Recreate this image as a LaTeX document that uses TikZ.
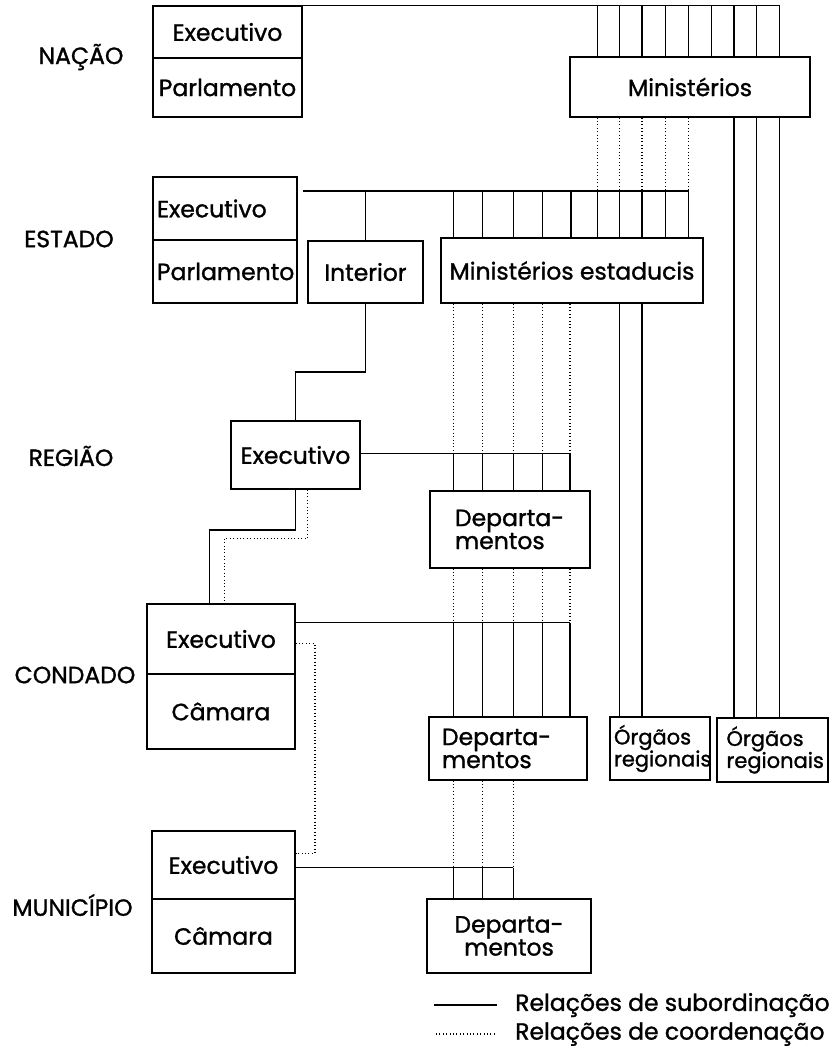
\documentclass[tikz,border=0pt]{standalone}
\usepackage{fontspec}
\setmainfont{Poppins}[FakeBold=1.2]
\newcommand\diagfont{\fontsize{23.5}{23}\selectfont}
\newcommand\orgfont{\fontsize{21}{22}\selectfont}
\tikzset{
  box/.style={draw, line width=1.2pt, inner sep=0pt, font=\diagfont, align=center},
  sub/.style={line width=1.2pt},
  coord/.style={line width=1.1pt, dash pattern=on 1pt off 2.4pt},
  lvl/.style={font=\diagfont},
}
\begin{document}
\begin{tikzpicture}[x=1pt,y=-1pt]
\useasboundingbox (0,0) rectangle (839,1060);

% level labels
\node[lvl] (lnacao) at (81,57) {NAÇÃO};
\node[lvl] (lestado) at (69,239) {ESTADO};
\node[lvl] (lregiao) at (71,456) {REGIÃO};
\node[lvl] (lcondado) at (75,675) {CONDADO};
\node[lvl] (lmunicipio) at (72.5,905) {MUNICÍPIO};

% boxes
\node[box, minimum width=149pt, minimum height=52pt] (nacaoE) at (227.5,32) {Executivo};
\node[box, minimum width=149pt, minimum height=59pt] (nacaoP) at (227.5,87.5) {Parlamento};
\node[box, minimum width=240pt, minimum height=60pt] (minist) at (690,87) {Ministérios};

\node[box, minimum width=144pt, minimum height=63pt, text width=136pt, align=left] (estE) at (225,208.5) {Executivo};
\node[box, minimum width=144pt, minimum height=63pt, text width=136pt, align=left] (estP) at (225,271.5) {Parlamento};
\node[box, minimum width=115pt, minimum height=62pt] (interior) at (365.5,272) {Interior};
\node[box, minimum width=262pt, minimum height=65pt] (minest) at (572,270.5) {Ministérios estaducis};

\node[box, minimum width=129pt, minimum height=68pt] (regE) at (295.5,455) {Executivo};
\node[box, minimum width=160pt, minimum height=77pt, text width=110pt, align=left] (dep1) at (510,529.5) {Departa-\\mentos};

\node[box, minimum width=148pt, minimum height=70pt] (condE) at (221,639) {Executivo};
\node[box, minimum width=148pt, minimum height=75pt] (condC) at (221,711.5) {Câmara};
\node[box, minimum width=158pt, minimum height=63pt, text width=132pt, align=left] (dep2) at (508,748.5) {Departa-\\mentos};
\node[box, font=\orgfont, minimum width=100pt, minimum height=63pt, text width=92pt, align=left] (org1) at (660,748.5) {Órgãos\\regionais};
\node[box, font=\orgfont, minimum width=111pt, minimum height=64pt, text width=92pt, align=left] (org2) at (772.5,750) {Órgãos\\regionais};

\node[box, minimum width=143pt, minimum height=68pt] (munE) at (223.5,865) {Executivo};
\node[box, minimum width=143pt, minimum height=74pt] (munC) at (223.5,936) {Câmara};
\node[box, minimum width=164pt, minimum height=74pt] (dep3) at (509,936) {Departa-\\mentos};

% ---- Nação bus
\coordinate (nbus) at (779.5,0);
\draw[sub] (nacaoE.north east) -- (nacaoE.north east -| nbus);
\foreach \x in {597.3,619.3,642,665.3,688.7,711.3,734,756.7,779.5} {
  \coordinate (t) at (\x,0);
  \draw[sub] (t |- nacaoE.north) -- (t |- minist.north);
}
% Ministérios -> estado bus (coordination)
\coordinate (sbus) at (688.7,191);
\foreach \x in {597.3,619.3,642,665.3,688.7} {
  \coordinate (t) at (\x,0);
  \draw[coord] (t |- minist.south) -- (t |- sbus);
}
% Ministérios -> Órgãos regionais 2
\foreach \x in {734,756.7,779.5} {
  \coordinate (t) at (\x,0);
  \draw[sub] (t |- minist.south) -- (t |- org2.north);
}

% ---- Estado bus
\coordinate (sb0) at ([xshift=5pt]estE.north east);
\draw[sub] (sb0 |- sbus) -- (sbus);
\draw[sub] (interior.north |- sbus) -- (interior.north);
\foreach \x in {453.3,482.7,513.3,542.5,571,597.3,619.3,642,665.3,688.7} {
  \coordinate (t) at (\x,0);
  \draw[sub] (t |- sbus) -- (t |- minest.north);
}
% Ministérios estaduais -> região bus (coordination)
\coordinate (rbus) at (570,453.3);
\foreach \x in {453.3,482.7,513.3,542.5,570} {
  \coordinate (t) at (\x,0);
  \draw[coord] (t |- minest.south) -- (t |- rbus);
}
% Ministérios estaduais -> Órgãos regionais 1
\foreach \x in {619.3,642} {
  \coordinate (t) at (\x,0);
  \draw[sub] (t |- minest.south) -- (t |- org1.north);
}
% Interior -> Região Executivo
\coordinate (ir) at (0,372);
\draw[sub] (interior.south) -- (interior.south |- ir) -| (regE.north);

% ---- Região bus
\draw[sub] (regE.east |- rbus) -- (rbus);
\foreach \x in {453.3,482.7,513.3,542.5,570} {
  \coordinate (t) at (\x,0);
  \draw[sub] (t |- rbus) -- (t |- dep1.north);
}
% Departamentos (região) -> condado bus (coordination)
\coordinate (cbus) at (570,622.7);
\foreach \x in {453.3,482.7,513.3,542.5,570} {
  \coordinate (t) at (\x,0);
  \draw[coord] (t |- dep1.south) -- (t |- cbus);
}
% Região Executivo -> Condado Executivo
\coordinate (rc1) at (209.6,530);
\draw[sub] (regE.south) |- (rc1) -- (rc1 |- condE.north);
\coordinate (rd0) at (307.9,0);
\coordinate (rd1) at (224.4,538.3);
\draw[coord] (rd0 |- regE.south) |- (rd1) -- (rd1 |- condE.north);

% ---- Condado bus
\draw[sub] (condE.east |- cbus) -- (cbus);
\foreach \x in {453.3,482.7,513.3,542.5,570} {
  \coordinate (t) at (\x,0);
  \draw[sub] (t |- cbus) -- (t |- dep2.north);
}
% Condado Executivo -> Município Executivo (coordination)
\coordinate (cc1) at (315,643.7);
\coordinate (cc2) at (315,853.3);
\draw[coord] (condE.east |- cc1) -- (cc1) -- (cc2) -- (munE.east |- cc2);
% Departamentos (condado) -> município bus (coordination)
\coordinate (mbus) at (513.3,867.7);
\foreach \x in {453.3,482.7,513.3} {
  \coordinate (t) at (\x,0);
  \draw[coord] (t |- dep2.south) -- (t |- mbus);
}
% ---- Município bus
\draw[sub] (munE.east |- mbus) -- (mbus);
\foreach \x in {453.3,482.7,513.3} {
  \coordinate (t) at (\x,0);
  \draw[sub] (t |- mbus) -- (t |- dep3.north);
}

% ---- legend
\coordinate (l1a) at (434,1005);
\coordinate (l1b) at (497,1005);
\coordinate (l2a) at (436,1034);
\coordinate (l2b) at (497,1034);
\draw[sub] (l1a) -- (l1b);
\draw[coord] (l2a) -- (l2b);
\node[lvl, anchor=west, inner sep=0pt] (leg1) at (515,1005) {Relações de subordinação};
\node[lvl, anchor=west, inner sep=0pt] (leg2) at (515,1034) {Relações de coordenação};
\end{tikzpicture}
\end{document}
